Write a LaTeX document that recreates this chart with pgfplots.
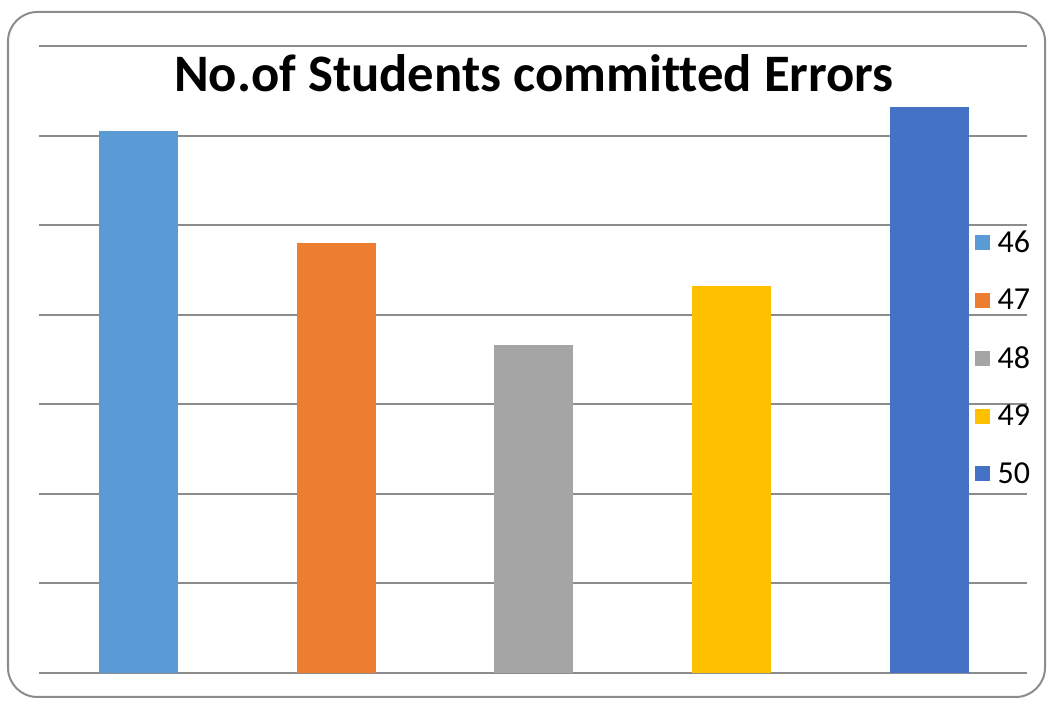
\documentclass[border=0pt]{standalone}
\usepackage{pgfplots}
\pgfplotsset{compat=1.18}
\usepackage{fontspec}
\setmainfont{Carlito}[Ligatures=NoCommon]
\definecolor{c1}{HTML}{5B9BD5}
\definecolor{c2}{HTML}{ED7D31}
\definecolor{c3}{HTML}{A5A5A5}
\definecolor{c4}{HTML}{FFC000}
\definecolor{c5}{HTML}{4472C4}
\definecolor{gridc}{HTML}{8C8C8C}
\begin{document}
\begin{tikzpicture}[x=0.75pt,y=0.75pt]
\path[use as bounding box] (-39,-29) rectangle (1013,673);
\draw[gridc, line width=1.5pt, rounded corners=22pt] (-31,-24) rectangle (1006,661);
\begin{axis}[
  at={(0,0)}, anchor=south west,
  scale only axis,
  width=741pt, height=470.25pt,
  xmin=-0.506, xmax=4.496,
  ymin=0, ymax=7,
  ytick={0,1,...,7},
  yticklabels={},
  xtick=\empty,
  major tick length=0pt,
  ymajorgrids,
  grid style={gridc, line width=1.5pt},
  axis line style={draw=none},
  clip=false,
  ybar, bar width=59.25pt, bar shift=0pt,
  legend style={at={(rel axis cs:0.943,0.714)}, anchor=north west, draw=none, fill=none,
    font=\fontsize{24}{29}\selectfont, row sep=22pt},
  legend cell align=left,
  legend image code/.code={\fill[#1] (0pt,-5.5pt) rectangle (11pt,5.5pt); \path (15pt,0pt);},
]
\addplot[fill=c1, draw=none] coordinates {(0,6.05)};
\addlegendentry{46}
\addplot[fill=c2, draw=none] coordinates {(1,4.80)};
\addlegendentry{47}
\addplot[fill=c3, draw=none] coordinates {(2,3.66)};
\addlegendentry{48}
\addplot[fill=c4, draw=none] coordinates {(3,4.32)};
\addlegendentry{49}
\addplot[fill=c5, draw=none] coordinates {(4,6.32)};
\addlegendentry{50}
\node[font=\bfseries\fontsize{39.5}{47}\selectfont, anchor=base] at (rel axis cs:0.501,0.928) {No.of Students committed Errors};
\end{axis}
\end{tikzpicture}
\end{document}
